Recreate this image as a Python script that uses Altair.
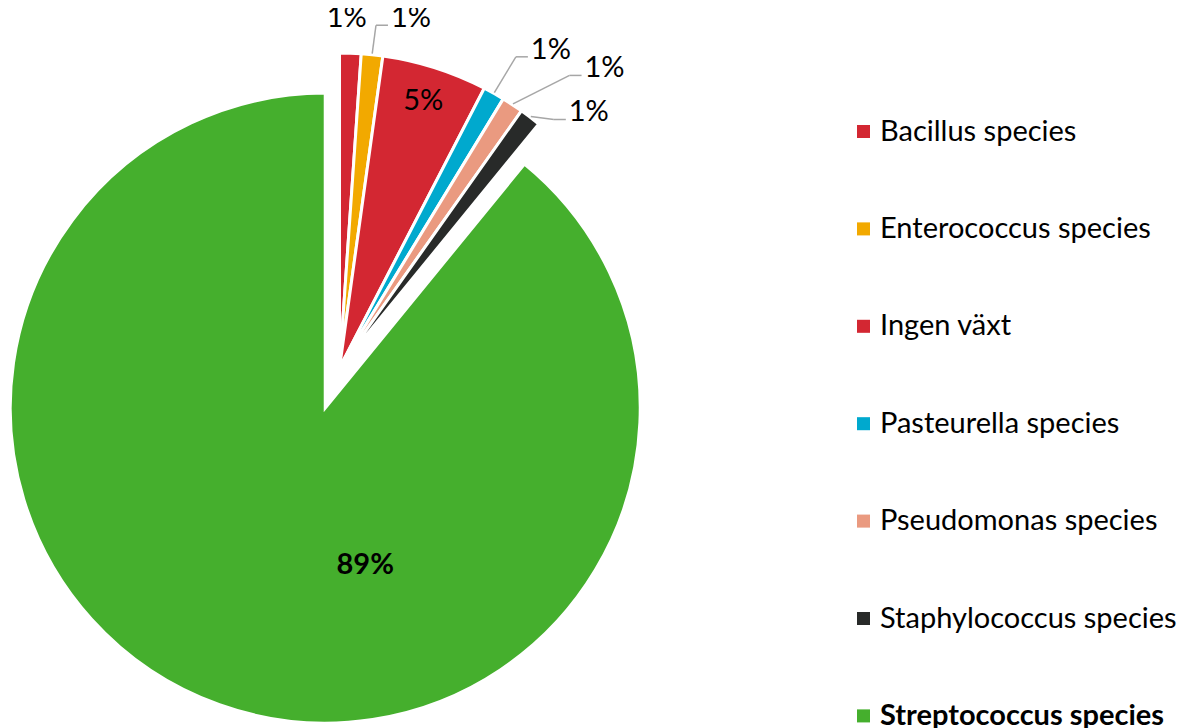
import math
import altair as alt
import pandas as pd

# ---------------- data ----------------
categories = [
    "Bacillus species",
    "Enterococcus species",
    "Ingen växt",
    "Pasteurella species",
    "Pseudomonas species",
    "Staphylococcus species",
    "Streptococcus species",
]
shares = [1.1, 1.1, 5.4, 1.1, 1.1, 1.1, 89.1]
colors = ["#D32732", "#F2A900", "#D32732", "#00A9CE", "#EA9A80", "#282A29", "#45AF2D"]

# ---------------- layout (styles / positions, not data) ----------------
FONT = "Lato"
FS = 29
CX, CY = 331.5, 360.0      # pie centre inside the view (px)
R = 315                     # pie radius (px)
explode = {"Streptococcus species": 42.5}
# label placement: (angle in degrees clockwise from 12 o'clock, radius px) from the slice centre
label_place = {
    "Bacillus species": (1.2, 350),
    "Enterococcus species": (11.55, 357),
    "Ingen växt": (17.4, 280),
    "Pasteurella species": (33.6, 382),
    "Pseudomonas species": (41.5, 400),
    "Staphylococcus species": (44.3, 357),
    "Streptococcus species": (165.7, 162),
}
leaders = {"Enterococcus species", "Pasteurella species", "Pseudomonas species", "Staphylococcus species"}

df = pd.DataFrame({
    "cat": categories,
    "share": shares,
    "idx": list(range(len(categories))),
    "explode": [explode.get(c, 0.0) for c in categories],
    "lab_ang": [label_place[c][0] for c in categories],
    "lab_r": [label_place[c][1] for c in categories],
    "leader": [c in leaders for c in categories],
})

base = alt.Chart(df).transform_window(
    cum="sum(share)", sort=[alt.SortField("idx")], frame=[None, 0]
).transform_calculate(
    a0="datum.cum - datum.share",
    a1="datum.cum",
    mid="(datum.cum - datum.share / 2) / 100 * 2 * PI",
    cx=f"{CX} + datum.explode * sin(datum.mid)",
    cy=f"{CY} - datum.explode * cos(datum.mid)",
    lx="datum.cx + datum.lab_r * sin(datum.lab_ang * PI / 180)",
    ly="datum.cy - datum.lab_r * cos(datum.lab_ang * PI / 180)",
    label="format(datum.share, '.0f') + '%'",
    ex0=f"datum.cx + {R + 1} * sin(datum.mid)",
    ey0=f"datum.cy - {R + 1} * cos(datum.mid)",
    ex1="datum.lx - 35",
    ey1="datum.ly + 7",
    ex2="datum.lx - 23",
)

xs = lambda f: alt.X(f, type="quantitative", scale=None, axis=None)
ys = lambda f: alt.Y(f, type="quantitative", scale=None, axis=None)

arcs = base.mark_arc(radius=R, stroke="white", strokeWidth=3).encode(
    x=xs("cx"),
    y=ys("cy"),
    theta=alt.Theta("a0:Q", scale=alt.Scale(domain=[0, 100], range=[0, 2 * math.pi]), stack=None),
    theta2="a1:Q",
    color=alt.Color(
        "cat:N",
        scale=alt.Scale(domain=categories, range=colors),
        legend=alt.Legend(
            title=None,
            orient="none",
            legendX=841,
            legendY=109,
            symbolType="square",
            symbolSize=170,
            symbolStrokeWidth=0,
            labelFont=FONT,
            labelFontSize=FS,
            labelColor="black",
            labelOffset=2,
            labelLimit=500,
            rowPadding=67.4,
            padding=0,
            labelFontWeight=alt.ExprRef("datum.label == 'Streptococcus species' ? 'bold' : 'normal'"),
        ),
    ),
)

lead = base.transform_filter("datum.leader")
rule1 = lead.mark_rule(color="#A6A6A6", strokeWidth=1.5).encode(
    x=xs("ex0"), y=ys("ey0"), x2="ex1:Q", y2="ey1:Q"
)
rule2 = lead.mark_rule(color="#A6A6A6", strokeWidth=1.5).encode(
    x=xs("ex1"), y=ys("ey1"), x2="ex2:Q", y2="ey1:Q"
)

labels_norm = base.transform_filter("datum.cat != 'Streptococcus species'").mark_text(
    font=FONT, fontSize=FS, color="black", baseline="middle", align="center"
).encode(x=xs("lx"), y=ys("ly"), text="label:N")

labels_bold = base.transform_filter("datum.cat == 'Streptococcus species'").mark_text(
    font=FONT, fontSize=FS, color="black", fontWeight="bold", baseline="middle", align="center"
).encode(x=xs("lx"), y=ys("ly"), text="label:N")

chart = alt.layer(arcs, rule1, rule2, labels_norm, labels_bold).properties(
    width=1184, height=720, padding=0, autosize="none", background="white"
).configure_view(stroke=None)

chart.save("out.html", embed_options={"renderer": "svg", "actions": False})
